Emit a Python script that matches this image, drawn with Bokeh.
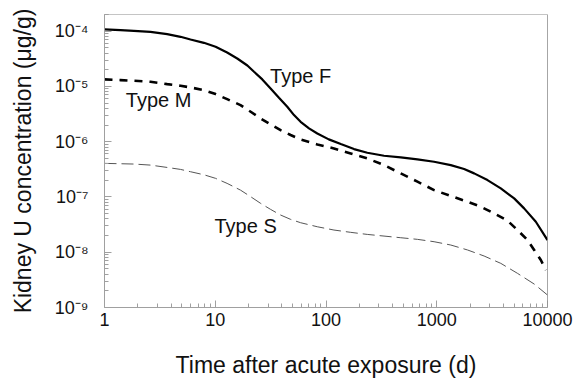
from bokeh.plotting import figure
from bokeh.models import FixedTicker, CustomJSTickFormatter, Span, ColumnDataSource
from bokeh.core.properties import value
from bokeh.embed import file_html
from bokeh.resources import INLINE

# Data (time in days, concentration in ug/g)
f_t = [1, 1.395, 1.84, 2.60, 3.68, 4.86, 5.98, 7.90, 10.07, 12.8, 15.8, 19.5, 22.4, 26.6, 31.6, 37.6,
       44.7, 51.4, 59.0, 70.2, 83.5, 106, 136, 179, 236, 334, 473, 669, 946, 1338, 1766, 2175, 2870,
       3786, 5000, 6150, 7845, 10000]
f_c = [1.072e-4, 1.042e-4, 1.014e-4, 9.73e-5, 8.83e-5, 7.90e-5, 7.07e-5, 6.15e-5, 5.21e-5, 4.11e-5,
       3.20e-5, 2.39e-5, 1.84e-5, 1.34e-5, 9.19e-6, 6.23e-6, 4.28e-6, 3.03e-6, 2.29e-6, 1.74e-6,
       1.41e-6, 1.10e-6, 9.05e-7, 7.35e-7, 6.31e-7, 5.57e-7, 5.19e-7, 4.78e-7, 4.34e-7, 3.77e-7,
       3.20e-7, 2.67e-7, 2.02e-7, 1.43e-7, 9.42e-8, 6.21e-8, 3.56e-8, 1.66e-8]

m_t = [1, 1.395, 1.84, 2.60, 3.68, 4.86, 5.98, 7.90, 10.07, 12.8, 16.9, 20.9, 25.7, 31.6, 38.9, 47.9,
       59.0, 83.5, 118, 167, 236, 334, 473, 669, 946, 1338, 1893, 2498, 3296, 4351, 5357, 6597, 7577,
       8707, 9660]
m_c = [1.34e-5, 1.30e-5, 1.264e-5, 1.213e-5, 1.10e-5, 1.027e-5, 9.58e-6, 8.57e-6, 7.26e-6, 5.89e-6,
       4.59e-6, 3.48e-6, 2.63e-6, 2.05e-6, 1.62e-6, 1.32e-6, 1.10e-6, 8.93e-7, 7.55e-7, 6.14e-7,
       4.98e-7, 3.77e-7, 2.67e-7, 1.89e-7, 1.33e-7, 1.04e-7, 8.20e-8, 6.66e-8, 5.04e-8, 3.72e-8,
       2.52e-8, 1.66e-8, 1.10e-8, 7.23e-9, 4.76e-9]

s_t = [1, 1.395, 1.84, 2.60, 3.68, 4.86, 5.98, 7.90, 10.07, 12.8, 16.9, 20.9, 25.7, 31.6, 38.9, 47.9,
       59.0, 83.5, 118, 167, 236, 334, 473, 669, 946, 1338, 1893, 2677, 3786, 5357, 7577, 10000]
s_c = [4.05e-7, 3.99e-7, 3.94e-7, 3.77e-7, 3.42e-7, 3.15e-7, 2.86e-7, 2.52e-7, 2.17e-7, 1.76e-7,
       1.33e-7, 1.01e-7, 7.65e-8, 5.96e-8, 4.71e-8, 3.93e-8, 3.42e-8, 2.89e-8, 2.52e-8, 2.29e-8,
       2.10e-8, 1.96e-8, 1.83e-8, 1.71e-8, 1.55e-8, 1.35e-8, 1.10e-8, 8.54e-9, 6.29e-9, 4.15e-9,
       2.66e-9, 1.68e-9]

label_text = ["Type F", "Type M", "Type S"]
label_x = [59, 3.08, 18.8]
label_y = [1.53e-5, 5.65e-6, 2.98e-8]

x_major = [1, 10, 100, 1000, 10000]
y_major = [1e-9, 1e-8, 1e-7, 1e-6, 1e-5, 1e-4]

FONT = "Liberation Sans"

p = figure(width=574, height=381, x_axis_type="log", y_axis_type="log",
           x_range=(1, 10000), y_range=(1e-9, 2e-4),
           output_backend="svg", toolbar_location=None,
           min_border_left=104, min_border_right=27, min_border_top=14, min_border_bottom=74)

p.background_fill_color = "white"
p.border_fill_color = "white"
p.grid.visible = False
p.outline_line_color = "#c4c4c4"
p.outline_line_width = 1

x_minor = [m * 10 ** k for k in range(0, 4) for m in range(2, 10)]
y_minor = [m * 10.0 ** k for k in range(-9, -3) for m in range(2, 10)] + [2e-4]

p.xaxis.ticker = FixedTicker(ticks=x_major, minor_ticks=x_minor)
p.yaxis.ticker = FixedTicker(ticks=y_major, minor_ticks=y_minor)

p.yaxis.formatter = CustomJSTickFormatter(code="""
const sup = {'-':'\u207b','0':'\u2070','1':'\u00b9','2':'\u00b2','3':'\u00b3','4':'\u2074','5':'\u2075','6':'\u2076','7':'\u2077','8':'\u2078','9':'\u2079'};
const e = String(Math.round(Math.log10(tick)));
let s = '';
for (const ch of e) { s += sup[ch]; }
return '10' + s;
""")
p.xaxis.formatter = CustomJSTickFormatter(code="return String(Math.round(tick));")

for ax in (p.xaxis[0], p.yaxis[0]):
    ax.axis_line_color = "#a0a0a0"
    ax.major_tick_line_color = "#a0a0a0"
    ax.minor_tick_line_color = "#a0a0a0"
    ax.major_tick_in = 7
    ax.major_tick_out = 0
    ax.minor_tick_in = 4
    ax.minor_tick_out = 0
    ax.major_label_text_font = FONT
    ax.major_label_text_font_size = "18px"
    ax.major_label_text_color = "#111111"
    ax.axis_label_text_font = FONT
    ax.axis_label_text_font_size = "23px"
    ax.axis_label_text_font_style = "normal"
    ax.axis_label_text_color = "#111111"

p.xaxis.axis_label = "Time after acute exposure (d)"
p.yaxis.axis_label = "Kidney U concentration (\u03bcg/g)"
p.xaxis.major_label_standoff = 5
p.xaxis.axis_label_standoff = 23
p.yaxis.major_label_standoff = 16
p.yaxis.axis_label_standoff = 16

p.add_layout(Span(location=10000, dimension="height", line_color="#888888", line_width=1))

p.line(f_t, f_c, line_color="black", line_width=2.2)
p.line(m_t, m_c, line_color="black", line_width=2.6, line_dash="8 7")
p.line(s_t, s_c, line_color="#555555", line_width=1, line_dash="12 5")

src = ColumnDataSource(dict(x=label_x, y=label_y, t=label_text))
p.text(x="x", y="y", text="t", source=src, text_font=value(FONT), text_font_size="20px",
       text_align="center", text_baseline="middle", text_color="#111111")

open("out.html", "w").write(file_html(p, INLINE))
